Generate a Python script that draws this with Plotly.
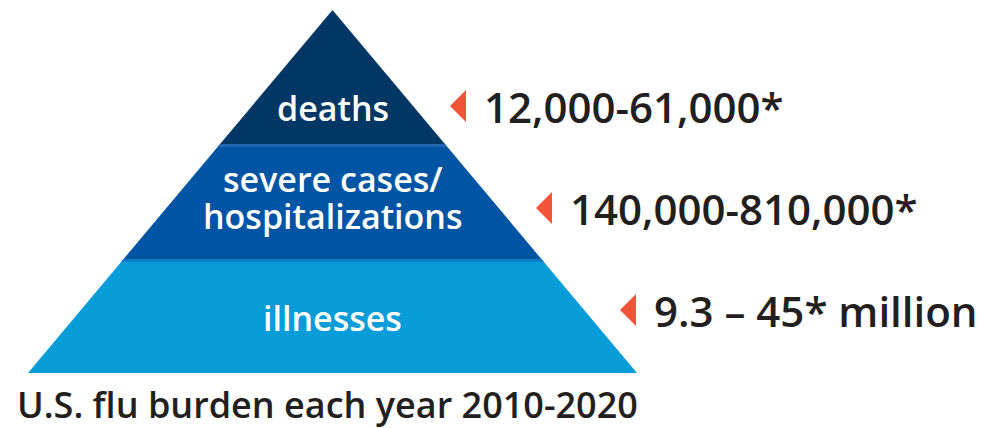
import plotly.graph_objects as go

# ---- data ----
categories = ["deaths", "severe cases/\nhospitalizations", "illnesses"]
burden_labels = ["12,000-61,000*", "140,000-810,000*", "9.3 \u2013 45* million"]
layer_colors = ["#013764", "#0054a4", "#089cd8"]
stripe_colors = ["#2267b3", "#0c7cc6"]
caption = "U.S. flu burden each year 2010-2020"

# ---- geometry (pixel-like coordinates, y downwards) ----
W, H = 981, 428
apex_x, apex_y = 332.5, 10
base_y, base_half = 373, 304.5
bounds = [apex_y, 145, 260, base_y]   # layer boundaries (top -> bottom)
label_centers = [108, 197, 318]
label_x0 = [450, 536, 620]            # tip of each pointer
label_y = [106, 208, 310]


def half(y):
    return base_half * (y - apex_y) / (base_y - apex_y)


def trapezoid(y0, y1):
    return ([apex_x - half(y0), apex_x + half(y0), apex_x + half(y1), apex_x - half(y1), apex_x - half(y0)],
            [y0, y0, y1, y1, y0])


fig = go.Figure()
for i, cat in enumerate(categories):
    xs, ys = trapezoid(bounds[i], bounds[i + 1])
    fig.add_trace(go.Scatter(x=xs, y=ys, fill="toself", fillcolor=layer_colors[i],
                             line=dict(width=0), mode="lines", hoverinfo="skip"))
for j, col in enumerate(stripe_colors):
    yb = bounds[j + 1]
    xs, ys = trapezoid(yb - 1, yb + 2)
    fig.add_trace(go.Scatter(x=xs, y=ys, fill="toself", fillcolor=col,
                             line=dict(width=0), mode="lines", hoverinfo="skip"))

annotations = []
# category labels inside the pyramid
line_gap = 37
for i, cat in enumerate(categories):
    lines = cat.split("\n")
    yc = label_centers[i]
    n = len(lines)
    for k, ln in enumerate(lines):
        yy = yc + (k - (n - 1) / 2) * line_gap
        annotations.append(dict(x=apex_x, y=yy, text=ln, showarrow=False, xanchor="center",
                                yanchor="middle", xref="x", yref="y",
                                font=dict(family="Open Sans", size=34, color="white", weight=600)))

# pointers and burden labels
for i, lab in enumerate(burden_labels):
    x0, yc = label_x0[i], label_y[i]
    fig.add_trace(go.Scatter(x=[x0, x0 + 16, x0 + 16, x0], y=[yc, yc - 16, yc + 16, yc],
                             fill="toself", fillcolor="#f0553a", line=dict(width=0),
                             mode="lines", hoverinfo="skip"))
    annotations.append(dict(x=x0 + 32, y=yc, text=lab, showarrow=False, xanchor="left",
                            yanchor="middle", xref="x", yref="y",
                            font=dict(family="Open Sans", size=42, color="#231f20", weight=600)))

annotations.append(dict(x=15, y=404, text=caption, showarrow=False, xanchor="left",
                        yanchor="middle", xref="x", yref="y",
                        font=dict(family="Open Sans", size=36, color="#231f20", weight=600)))

fig.update_layout(
    width=W, height=H, margin=dict(l=0, r=0, t=0, b=0),
    paper_bgcolor="white", plot_bgcolor="white", showlegend=False,
    xaxis=dict(range=[0, W], visible=False, fixedrange=True),
    yaxis=dict(range=[H, 0], visible=False, fixedrange=True),
    annotations=annotations,
)
fig.write_html("out.html")
